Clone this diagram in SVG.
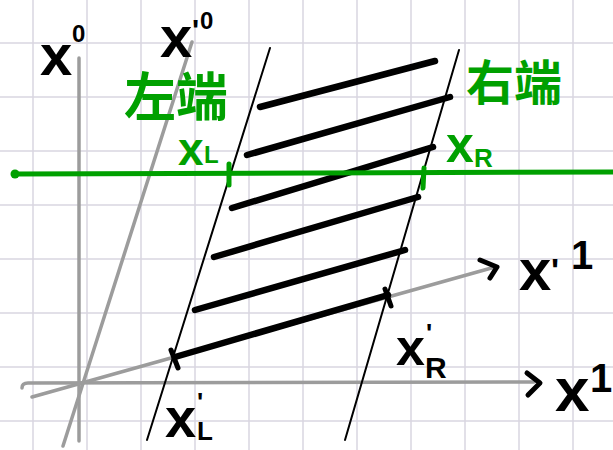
<svg xmlns="http://www.w3.org/2000/svg" width="613" height="450" viewBox="0 0 613 450">
<style>
.grid line{stroke:#d8d6e0;stroke-width:1.5}
.axis{stroke:#9c9c9c;stroke-width:3.5;fill:none;stroke-linecap:round}
.arrow{stroke:#000;stroke-width:5;fill:none;stroke-linecap:round;stroke-linejoin:round}
.world{stroke:#000;stroke-width:2;fill:none;stroke-linecap:round}
.rod{stroke:#000;stroke-width:6.5;fill:none;stroke-linecap:round}
.tick{stroke:#000;stroke-width:5;stroke-linecap:round}
.green{stroke:#00a000;fill:none;stroke-linecap:round}
.lbl{font-family:"Liberation Sans",Arial,sans-serif;font-weight:bold;fill:#000}
.glbl{font-family:"Liberation Sans",Arial,sans-serif;font-weight:bold;fill:#00a000}
.cjk{font-family:"Liberation Sans","Noto Sans CJK SC",sans-serif;font-weight:bold;fill:#00a000}
</style>
<rect width="613" height="450" fill="#fff"/>
<g class="grid" id="grid">
<line x1="33" y1="0" x2="33" y2="450"/><line x1="87" y1="0" x2="87" y2="450"/><line x1="141" y1="0" x2="141" y2="450"/><line x1="195" y1="0" x2="195" y2="450"/><line x1="249" y1="0" x2="249" y2="450"/><line x1="303" y1="0" x2="303" y2="450"/><line x1="357" y1="0" x2="357" y2="450"/><line x1="411" y1="0" x2="411" y2="450"/><line x1="465" y1="0" x2="465" y2="450"/><line x1="519" y1="0" x2="519" y2="450"/><line x1="573" y1="0" x2="573" y2="450"/>
<line x1="0" y1="43" x2="613" y2="43"/><line x1="0" y1="97" x2="613" y2="97"/><line x1="0" y1="151" x2="613" y2="151"/><line x1="0" y1="205" x2="613" y2="205"/><line x1="0" y1="259" x2="613" y2="259"/><line x1="0" y1="313" x2="613" y2="313"/><line x1="0" y1="367" x2="613" y2="367"/><line x1="0" y1="421" x2="613" y2="421"/>
</g>
<g id="axes">
<line class="axis" x1="79" y1="58" x2="79" y2="441"/>
<line class="axis" x1="192" y1="42" x2="63" y2="446"/>
<path class="axis" d="M22,388 Q22,383 28,383 L534,382"/>
<line class="axis" x1="32" y1="397" x2="495" y2="267"/>
<polyline class="arrow" points="527,373 540,383 528,395"/>
<polyline class="arrow" points="480,260 497,267 490,278"/>
</g>
<g id="worldlines">
<line class="world" x1="270" y1="48" x2="147" y2="440"/>
<line class="world" x1="459" y1="50" x2="345" y2="440"/>
</g>
<g id="rods">
<line class="rod" x1="260" y1="107" x2="435" y2="61"/>
<line class="rod" x1="247" y1="155" x2="450" y2="97"/>
<line class="rod" x1="232" y1="208" x2="433" y2="147"/>
<line class="rod" x1="214" y1="257" x2="418" y2="197"/>
<line class="rod" x1="195" y1="310" x2="405" y2="250"/>
<line class="rod" x1="175" y1="357" x2="388" y2="295"/>
<line class="tick" x1="171" y1="350" x2="178" y2="368"/>
<line class="tick" x1="385" y1="289" x2="391" y2="306"/>
</g>
<g id="simultaneity">
<line class="green" stroke-width="5" x1="15" y1="174" x2="613" y2="172"/>
<circle cx="15" cy="174" r="4.5" fill="#00a000"/>
<line class="green" stroke-width="5" x1="229" y1="164" x2="229" y2="185"/>
<line class="green" stroke-width="5" x1="424" y1="168" x2="423" y2="188"/>
</g>
<g id="labels">
<text class="lbl" x="40" y="75" font-size="58">x<tspan x="72" y="42" font-size="24">0</tspan></text>
<text class="lbl" x="160" y="57" font-size="58">x<tspan x="192" y="40" font-size="30">'</tspan><tspan x="200" y="29" font-size="24">0</tspan></text>
<text class="lbl" x="519" y="290" font-size="58">x<tspan x="551" y="282" font-size="34">'</tspan><tspan x="571" y="269" font-size="40">1</tspan></text>
<text class="lbl" x="555" y="411" font-size="62">x<tspan x="590" y="392" font-size="40">1</tspan></text>
<text class="lbl" x="396" y="365" font-size="52">x<tspan x="426" y="342" font-size="26">'</tspan><tspan x="425" y="378" font-size="30">R</tspan></text>
<text class="lbl" x="165" y="437" font-size="56">x<tspan x="197" y="411" font-size="26">'</tspan><tspan x="197" y="440" font-size="26">L</tspan></text>
<text class="glbl" x="178" y="165" font-size="46">x<tspan x="204" y="163" font-size="24">L</tspan></text>
<text class="glbl" x="446" y="162" font-size="50">x<tspan x="474" y="167" font-size="26">R</tspan></text>
<text class="cjk" x="124" y="116" font-size="52">左端</text>
<text class="cjk" x="466" y="100" font-size="48">右端</text>
</g>
</svg>
